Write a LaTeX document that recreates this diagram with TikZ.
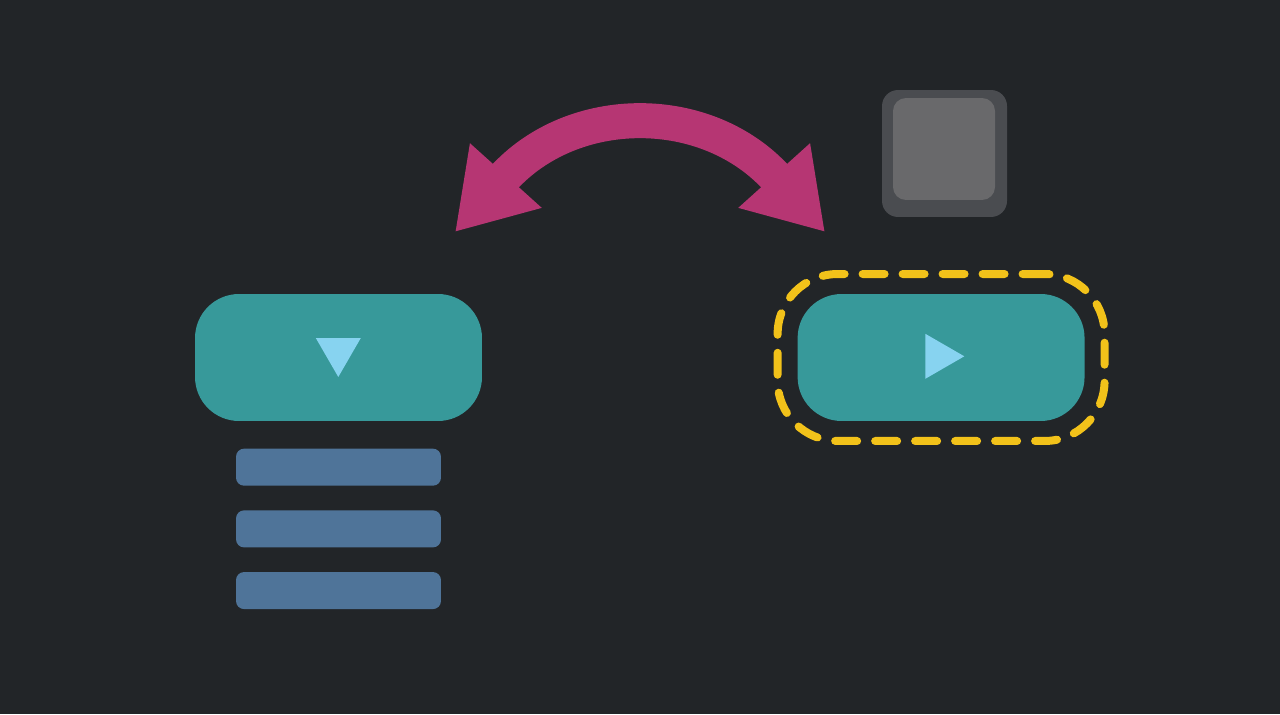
\documentclass[tikz,border=0pt]{standalone}
\usepackage{xcolor}
\usepackage{tikz}
\usetikzlibrary{shapes.geometric, arrows.meta, positioning}

\definecolor{bgdark}{HTML}{222528}
\definecolor{pillteal}{HTML}{37999A}
\definecolor{caretblue}{HTML}{87D3F0}
\definecolor{itemblue}{HTML}{4F7499}
\definecolor{swapmagenta}{HTML}{B63673}
\definecolor{ringyellow}{HTML}{F2C21A}
\definecolor{keyrim}{HTML}{4A4C50}
\definecolor{keytop}{HTML}{69696B}

\begin{document}
\begin{tikzpicture}[
  x=0.02cm, y=0.02cm,
  pill/.style={rectangle, fill=pillteal, minimum width=5.74cm, minimum height=2.54cm, rounded corners=0.88cm, inner sep=0pt},
  menuitem/.style={rectangle, fill=itemblue, minimum width=4.1cm, minimum height=0.74cm, rounded corners=0.16cm, inner sep=0pt},
  caret/.style={regular polygon, regular polygon sides=3, fill=caretblue, minimum size=1.04cm, inner sep=0pt},
  focusring/.style={rectangle, draw=ringyellow, line width=0.16cm, line cap=round, dash pattern=on 0.44cm off 0.36cm, minimum width=6.54cm, minimum height=3.34cm, rounded corners=1.2cm, inner sep=0pt},
  keyouter/.style={rectangle, fill=keyrim, minimum width=2.5cm, minimum height=2.54cm, rounded corners=0.32cm, inner sep=0pt},
  keyinner/.style={rectangle, fill=keytop, minimum size=2.04cm, rounded corners=0.26cm, inner sep=0pt},
  swaparrow/.style={draw=swapmagenta, line width=0.7cm, {Triangle[length=1.52cm, width=1.82cm]}-{Triangle[length=1.52cm, width=1.82cm]}}
]

% Background
\fill[bgdark] (0,0) rectangle (1280,714);
\useasboundingbox (0,0) rectangle (1280,714);

% Dropdown with its menu
\node (ddpill) [pill] at (338.5,356.5) {};
\node (ddcaret) [caret, shape border rotate=180] at (338.3,363) {};
\node (item1) [menuitem, below=0.54cm of ddpill] {};
\node (item2) [menuitem, below=0.48cm of item1] {};
\node (item3) [menuitem, below=0.48cm of item2] {};

% Play button with focus
\node (playpill) [pill, right=6.3cm of ddpill] {};
\node (playcaret) [caret, shape border rotate=-90] at (938.3,357.7) {};
\node (ring) [focusring] at (playpill) {};

% Key
\node (key) [keyouter] at (944.5,560.5) {};
\node (keycap) [keyinner] at (944,565) {};

% Swap arrow
\coordinate (swapL) at (455,482);
\coordinate (swapR) at (825,482);
\draw [swaparrow] (swapL) to[out=48, in=132, looseness=1.22] (swapR);
\end{tikzpicture}
\end{document}
